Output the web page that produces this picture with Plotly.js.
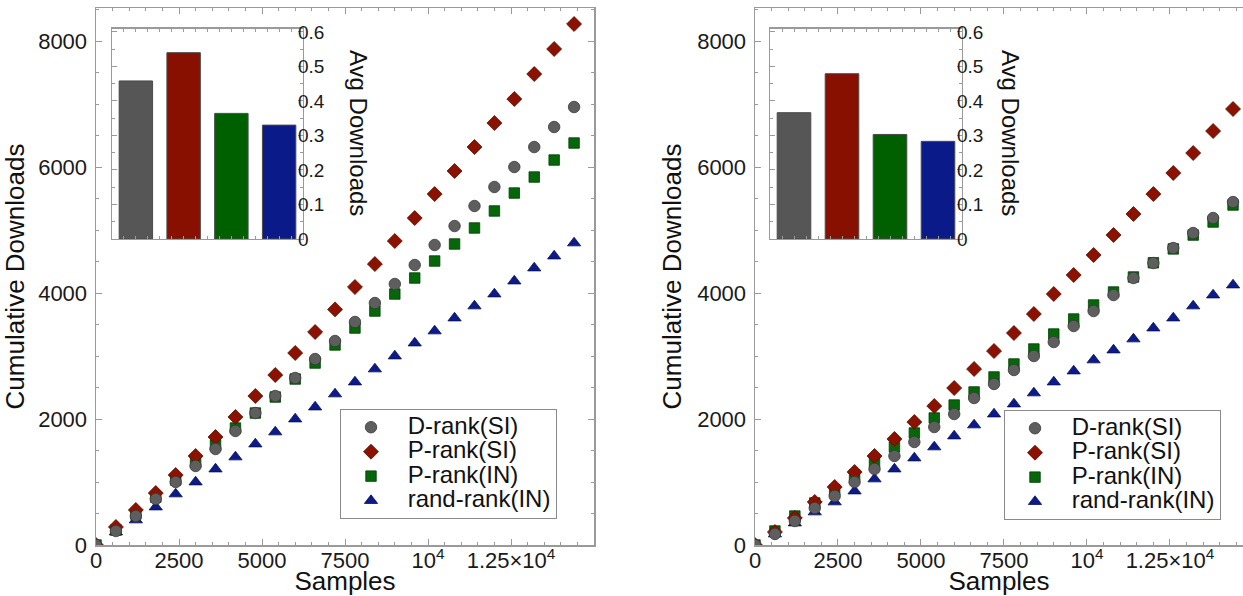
<!DOCTYPE html>
<html>
<head>
<meta charset="utf-8">
<script src="https://cdn.plot.ly/plotly-3.0.1.min.js"></script>
<style>html,body{margin:0;padding:0;background:#fff;}#chart{width:1243px;height:596px;}</style>
</head>
<body>
<div id="chart"></div>
<script>
// ---- data ----
const samples = [0,600,1200,1800,2400,3000,3600,4200,4800,5400,6000,6600,7200,7800,8400,9000,9600,10200,10800,11400,12000,12600,13200,13800,14400];
const seriesNames = ['D-rank(SI)','P-rank(SI)','P-rank(IN)','rand-rank(IN)'];

const leftDrankSI  = [0,222,460,730,1000,1254,1524,1810,2095,2365,2651,2952,3238,3540,3841,4143,4444,4762,5063,5381,5683,6000,6317,6635,6952];
const leftPrankSI  = [0,286,556,825,1111,1413,1714,2032,2365,2698,3048,3381,3740,4095,4460,4825,5190,5571,5937,6317,6698,7079,7476,7873,8270];
const leftPrankIN  = [0,238,492,760,1032,1317,1587,1857,2095,2349,2635,2889,3175,3444,3714,3984,4238,4508,4778,5032,5302,5587,5841,6111,6381];
const leftRandIN   = [0,206,397,603,810,1000,1206,1397,1603,1794,2000,2190,2397,2587,2794,3000,3206,3397,3603,3794,3984,4190,4397,4587,4794];

const rightDrankSI = [0,175,381,587,778,1000,1206,1413,1635,1873,2079,2333,2556,2778,3000,3222,3476,3714,3968,4238,4476,4714,4952,5190,5444];
const rightPrankSI = [0,206,429,683,921,1159,1413,1683,1952,2206,2492,2794,3079,3365,3667,3984,4286,4603,4921,5254,5571,5905,6222,6571,6921];
const rightPrankIN = [0,222,460,667,873,1111,1317,1556,1778,2016,2222,2429,2667,2873,3111,3349,3587,3810,4016,4254,4480,4700,4920,5127,5397];
const rightRandIN  = [0,175,349,524,683,857,1048,1206,1381,1556,1730,1905,2079,2238,2413,2587,2762,2937,3095,3270,3444,3603,3794,3968,4127];

const barCats = [0,1,2,3];
const leftAvg  = [0.458,0.540,0.364,0.330];
const rightAvg = [0.366,0.479,0.303,0.283];

const xTickVals = [0,2500,5000,7500,10000,12500];
const xTickText = ['0','2500','5000','7500','10<sup>4</sup>','1.25×10<sup>4</sup>'];
const yTickVals = [0,2000,4000,6000,8000];
const insetTickVals = [0,0.1,0.2,0.3,0.4,0.5,0.6];
const insetTickText = ['0','0.1','0.2','0.3','0.4','0.5','0.6'];

// ---- styles ----
const FONT = 'Liberation Sans, Arial, Helvetica, sans-serif';
const styles = [
  {symbol:'circle', size:11.5, color:'#5e5e5e', line:'#3a3a3a', rank:1},
  {symbol:'diamond', size:11.5, color:'#8b1200', line:'#5a0c00', rank:2},
  {symbol:'square', size:10.5, color:'#06660a', line:'#034005', rank:3},
  {symbol:'triangle-up', size:11.5, color:'#0c1a8c', line:'#06104f', rank:4}
];
const barColors = ['#565656','#881000','#006000','#0a1a88'];

function makeTraces(ys, xa, ya, legendId) {
  // draw order: triangles, squares, diamonds, circles on top
  const order = [3,2,1,0];
  return order.map(i => ({
    type:'scatter', mode:'markers', x:samples, y:ys[i], xaxis:xa, yaxis:ya,
    name:'<span style="font-size:24px">\u00a0'+seriesNames[i]+'</span>',
    legend:legendId, legendrank:styles[i].rank,
    marker:{symbol:styles[i].symbol, size:styles[i].size, color:styles[i].color,
            line:{color:styles[i].line, width:0.8}},
    hoverinfo:'x+y'
  }));
}

const traces = [
  ...makeTraces([leftDrankSI,leftPrankSI,leftPrankIN,leftRandIN],'x','y','legend'),
  ...makeTraces([rightDrankSI,rightPrankSI,rightPrankIN,rightRandIN],'x2','y2','legend2'),
  {type:'bar', x:barCats, y:leftAvg, xaxis:'x3', yaxis:'y3', width:0.7, showlegend:false,
   marker:{color:barColors, line:{color:'#4a4a4a', width:1}}},
  {type:'bar', x:barCats, y:rightAvg, xaxis:'x4', yaxis:'y4', width:0.7, showlegend:false,
   marker:{color:barColors, line:{color:'#4a4a4a', width:1}}}
];

const W = 1243, TOP = 8, BOT = 545, PH = BOT - TOP;
const px = v => v / W;
const py = v => (BOT - v) / PH;

const axisLine = '#9a9a9a';
const tickFont = {family:FONT, size:22, color:'#1a1a1a'};
function mainX(domain, range) {
  return {domain:domain, range:range, showgrid:false, zeroline:false, showline:true, linecolor:axisLine, linewidth:1.5,
    mirror:'ticks', ticks:'inside', ticklen:6, tickcolor:axisLine, tickwidth:1,
    tickvals:xTickVals, showticklabels:false,
    minor:{dtick:500, tick0:0, ticks:'inside', ticklen:3, tickcolor:axisLine, showgrid:false},
    title:{text:'Samples', font:{family:FONT, size:26, color:'#111'}, standoff:29}};
}
// label-only axis so tick labels sit close to the axis line
function labelX(over, domain, range) {
  return {overlaying:over, anchor:'free', position:0, domain:domain, range:range, side:'bottom',
    showgrid:false, zeroline:false, showline:false, ticks:'',
    tickvals:xTickVals, ticktext:xTickText, tickfont:tickFont};
}
function mainY(anchor, mirror) {
  return {anchor:anchor, range:[0,8524], showgrid:false, zeroline:false, showline:true, linecolor:axisLine, linewidth:1.5,
    mirror:mirror, ticks:'inside', ticklen:6, tickcolor:axisLine, tickwidth:1,
    tickvals:yTickVals, tickfont:tickFont, ticklabelstandoff:3,
    minor:{dtick:500, tick0:0, ticks:'inside', ticklen:3, tickcolor:axisLine, showgrid:false},
    title:{text:'Cumulative Downloads', font:{family:FONT, size:26, color:'#111'}, standoff:8}};
}
function insetX(domain, anchor) {
  return {domain:domain, anchor:anchor, range:[-0.5,3.5], showgrid:false, zeroline:false, showline:true,
    linecolor:axisLine, linewidth:1.2, mirror:'ticks', ticks:'inside', ticklen:3, tickcolor:axisLine,
    tick0:-0.5, dtick:0.25, showticklabels:false};
}
function insetY(domain, anchor) {
  return {domain:domain, anchor:anchor, side:'right', range:[0,0.61], showgrid:false, zeroline:false, showline:true,
    linecolor:axisLine, linewidth:1.2, mirror:'ticks', ticks:'inside', ticklen:5, tickcolor:axisLine,
    tickvals:insetTickVals, showticklabels:false,
    minor:{dtick:0.05, tick0:0, ticks:'inside', ticklen:3, tickcolor:axisLine, showgrid:false}};
}
function labelInsetY(over, domain, posPx) {
  return {overlaying:over, anchor:'free', position:px(posPx), domain:domain, side:'right', range:[0,0.61],
    showgrid:false, zeroline:false, showline:false, ticks:'',
    tickvals:insetTickVals, ticktext:insetTickText, tickfont:{family:FONT, size:19, color:'#1a1a1a'}};
}
function legendBox(x, y) {
  return {x:x, y:y, xanchor:'left', yanchor:'top', bgcolor:'#ffffff', bordercolor:'#8a8a8a', borderwidth:1,
    font:{family:FONT, size:16.5, color:'#111'}, itemwidth:50, tracegroupgap:0};
}

const insetYDomain = [py(239), py(28.5)];

// invisible helper traces that bind the label-only axes
const labelTraces = [
  {type:'scatter', mode:'markers', x:[0], y:[0], xaxis:'x5', yaxis:'y', showlegend:false, marker:{opacity:0}, hoverinfo:'skip'},
  {type:'scatter', mode:'markers', x:[0], y:[0], xaxis:'x6', yaxis:'y2', showlegend:false, marker:{opacity:0}, hoverinfo:'skip'},
  {type:'scatter', mode:'markers', x:[0], y:[0], xaxis:'x3', yaxis:'y5', showlegend:false, marker:{opacity:0}, hoverinfo:'skip'},
  {type:'scatter', mode:'markers', x:[0], y:[0], xaxis:'x4', yaxis:'y6', showlegend:false, marker:{opacity:0}, hoverinfo:'skip'}
];

const layout = {
  width:W, height:596, margin:{l:0, r:0, t:TOP, b:596-BOT},
  paper_bgcolor:'#ffffff', plot_bgcolor:'rgba(0,0,0,0)',
  font:{family:FONT},
  showlegend:true,
  xaxis: mainX([px(96), px(594)], [0,15000]),
  yaxis: mainY('x', 'ticks'),
  xaxis2: mainX([px(755), 1], [0,14700]),
  yaxis2: mainY('x2', false),
  xaxis3: insetX([px(112), px(303)], 'y3'),
  yaxis3: insetY(insetYDomain, 'x3'),
  xaxis4: insetX([px(770), px(962)], 'y4'),
  yaxis4: insetY(insetYDomain, 'x4'),
  xaxis5: labelX('x', [px(96), px(594)], [0,15000]),
  xaxis6: labelX('x2', [px(755), 1], [0,14700]),
  yaxis5: labelInsetY('y3', insetYDomain, 297),
  yaxis6: labelInsetY('y4', insetYDomain, 956),
  legend: legendBox(px(340), py(409)),
  legend2: legendBox(px(1004), py(410)),
  annotations:[
    {text:'Avg Downloads', xref:'paper', yref:'paper', x:px(359), y:py(133), textangle:90, showarrow:false,
     font:{family:FONT, size:24, color:'#111'}, xanchor:'center', yanchor:'middle'},
    {text:'Avg Downloads', xref:'paper', yref:'paper', x:px(1011), y:py(133), textangle:90, showarrow:false,
     font:{family:FONT, size:24, color:'#111'}, xanchor:'center', yanchor:'middle'}
  ]
};

Plotly.newPlot('chart', [...traces, ...labelTraces], layout, {displayModeBar:false, staticPlot:true});
</script>
</body>
</html>
